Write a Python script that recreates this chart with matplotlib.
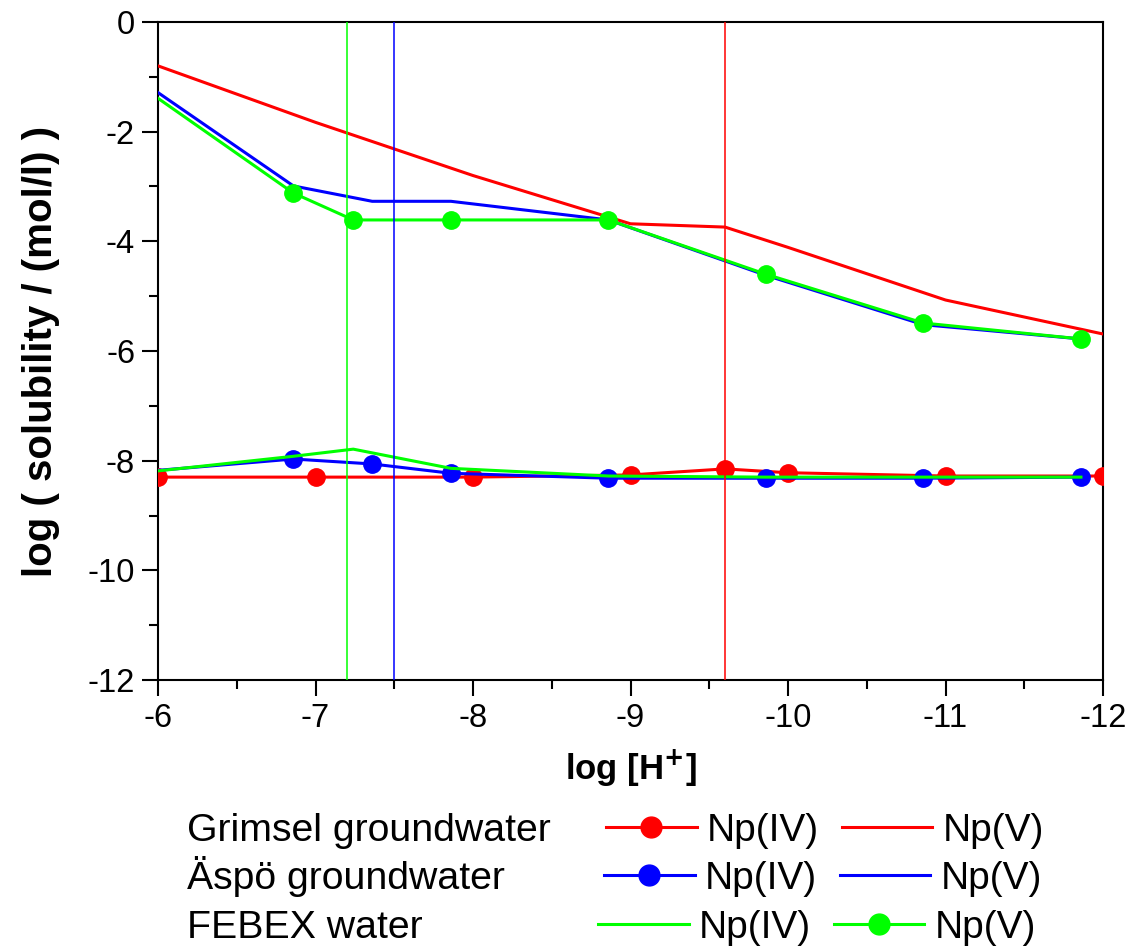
import matplotlib.pyplot as plt
import numpy as np

plt.rcParams['font.family'] = ['Liberation Sans', 'DejaVu Sans']

### data
# Grimsel groundwater
x_gr = [-6, -7, -8, -9, -9.6, -10, -11, -12]
gr_np4 = [-8.3, -8.3, -8.3, -8.26, -8.15, -8.22, -8.28, -8.28]
gr_np5 = [-0.8, -1.83, -2.8, -3.68, -3.74, -4.11, -5.07, -5.69]
# Aspo groundwater
x_as = [-5.86, -6.86, -7.36, -7.86, -8.86, -9.86, -10.86, -11.86]
as_np4 = [-8.21, -7.97, -8.06, -8.23, -8.32, -8.32, -8.32, -8.3]
as_np5 = [-1.01, -2.99, -3.27, -3.27, -3.61, -4.62, -5.52, -5.78]
# FEBEX water
x_fe = [-5.86, -6.86, -7.24, -7.86, -8.86, -9.86, -10.86, -11.86]
fe_np4 = [-8.23, -7.92, -7.79, -8.14, -8.28, -8.3, -8.3, -8.3]
fe_np5 = [-1.11, -3.12, -3.61, -3.61, -3.61, -4.6, -5.49, -5.78]
# measured pH of each water
vlines = [-9.6, -7.5, -7.2]

waters = ["Grimsel groundwater", "\u00c4sp\u00f6 groundwater", "FEBEX water"]
cols = ["#ff0000", "#0000ff", "#00ff00"]

fig = plt.figure(figsize=(11.35, 9.47), dpi=100)
ax = fig.add_axes([158/1135, 1-680/947, (1103-158)/1135, (680-22)/947])

lw = 2.2
ms = 12.5
ax.plot(x_gr, gr_np4, color=cols[0], lw=lw, marker="o", ms=ms, zorder=3)
ax.plot(x_as, as_np4, color=cols[1], lw=lw, marker="o", ms=ms, zorder=4)
ax.plot(x_fe, fe_np4, color=cols[2], lw=lw, zorder=5)
ax.plot(x_gr, gr_np5, color=cols[0], lw=lw, zorder=3)
ax.plot(x_as, as_np5, color=cols[1], lw=lw, zorder=4)
ax.plot(x_fe, fe_np5, color=cols[2], lw=lw, marker="o", ms=ms, zorder=5)

for v, c in zip(vlines, cols):
    ax.axvline(v, color=c, lw=1.1, zorder=6)

ax.set_xlim(-6, -12)
ax.set_ylim(-12, 0)
ax.set_xticks(np.arange(-6, -12.5, -1))
ax.set_xticks(np.arange(-6.5, -12, -1), minor=True)
ax.set_yticks(np.arange(-12, 0.5, 2))
ax.set_yticks(np.arange(-11, 0, 2), minor=True)
ax.set_xticklabels([str(int(t)) for t in ax.get_xticks()])
ax.set_yticklabels([str(int(t)) for t in ax.get_yticks()])
ax.tick_params(which="major", direction="out", length=11.5, width=1.5, labelsize=23.5, pad=5)
ax.tick_params(which="minor", direction="out", length=6.5, width=1.5)
for s in ax.spines.values():
    s.set_linewidth(1.5)

ax.set_xlabel("log [H$^{\\mathbf{+}}$]", fontsize=25, fontweight="bold", labelpad=10)
ax.set_ylabel("log ( solubility / (mol/l) )", fontsize=29, fontweight="bold", labelpad=20)

### legend block below the axes (pixel layout)
lax = fig.add_axes([0, 0, 1, 1], zorder=-1)
lax.set_xlim(0, 1135)
lax.set_ylim(947, 0)
lax.axis("off")

rows_y = [827, 875, 924]
shift = [0, -2, -8]
np4_mark = [True, True, False]
np5_mark = [False, False, True]
for i in range(3):
    y = rows_y[i]
    d = shift[i]
    lax.text(187, y + 14, waters[i], fontsize=28.3, va="baseline", ha="left")
    lax.plot([606 + d, 697 + d], [y, y], color=cols[i], lw=lw)
    if np4_mark[i]:
        lax.plot([651 + d], [y], "o", color=cols[i], ms=15)
    lax.text(707 + d, y + 14, "Np(IV)", fontsize=28, va="baseline", ha="left")
    lax.plot([842 + d, 932 + d], [y, y], color=cols[i], lw=lw)
    if np5_mark[i]:
        lax.plot([887 + d], [y], "o", color=cols[i], ms=15)
    lax.text(943 + d, y + 14, "Np(V)", fontsize=28, va="baseline", ha="left")

plt.savefig("out.png", dpi=100)
plt.close()
